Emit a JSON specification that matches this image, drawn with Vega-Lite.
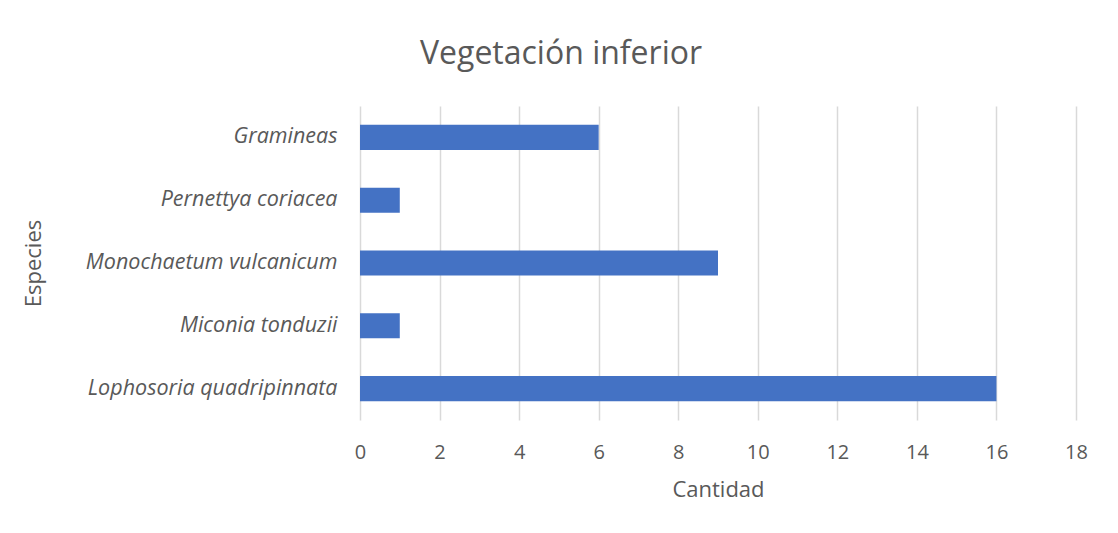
{
  "$schema": "https://vega.github.io/schema/vega-lite/v6.json",
  "width": 716,
  "height": 314,
  "autosize": {"type": "none"},
  "padding": {"left": 360, "top": 106, "right": 42, "bottom": 113},
  "background": "white",
  "title": {
    "text": "Vegetación inferior",
    "anchor": "middle",
    "dx": -157,
    "offset": 35,
    "fontSize": 32,
    "font": "Open Sans",
    "fontWeight": "normal",
    "color": "#595959"
  },
  "data": {
    "values": [
      {"especie": "Gramineas", "cantidad": 6},
      {"especie": "Pernettya coriacea", "cantidad": 1},
      {"especie": "Monochaetum vulcanicum", "cantidad": 9},
      {"especie": "Miconia tonduzii", "cantidad": 1},
      {"especie": "Lophosoria quadripinnata", "cantidad": 16}
    ]
  },
  "mark": {"type": "bar", "color": "#4472C4"},
  "encoding": {
    "y": {
      "field": "especie",
      "type": "nominal",
      "sort": null,
      "title": "Especies",
      "scale": {"paddingInner": 0.6, "paddingOuter": 0.3},
      "axis": {
        "domain": false,
        "ticks": false,
        "labelPadding": 23,
        "labelFont": "Open Sans",
        "labelFontStyle": "italic",
        "labelFontSize": 21.5,
        "labelColor": "#595959",
        "labelLimit": 400,
        "titleFont": "Open Sans",
        "titleFontSize": 22,
        "titleFontWeight": "normal",
        "titleColor": "#595959",
        "titleX": -327,
        "titleY": 157,
        "titleAngle": -90,
        "titleAlign": "center",
        "titleBaseline": "middle"
      }
    },
    "x": {
      "field": "cantidad",
      "type": "quantitative",
      "title": "Cantidad",
      "scale": {"domain": [0, 18], "nice": false},
      "axis": {
        "values": [0, 2, 4, 6, 8, 10, 12, 14, 16, 18],
        "domain": false,
        "ticks": false,
        "grid": true,
        "gridColor": "#D9D9D9",
        "gridWidth": 1.5,
        "labelFlush": false,
        "labelPadding": 22,
        "labelFont": "Open Sans",
        "labelFontSize": 20,
        "labelColor": "#595959",
        "titleFont": "Open Sans",
        "titleFontSize": 22,
        "titleFontWeight": "normal",
        "titleColor": "#595959",
        "titleY": 69,
        "titleBaseline": "middle"
      }
    }
  },
  "config": {"view": {"stroke": null}}
}
